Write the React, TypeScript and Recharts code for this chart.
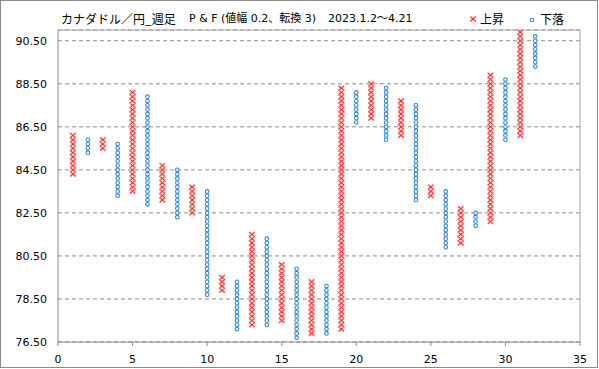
import { ScatterChart, Scatter, XAxis, YAxis, CartesianGrid, ReferenceLine } from 'recharts';

// P&F columns (box 0.2, reversal 3) — odd columns rise (X), even fall (O)
const colNo = [1, 2, 3, 4, 5, 6, 7, 8, 9, 10, 11, 12, 13, 14, 15, 16, 17, 18, 19, 20, 21, 22, 23, 24, 25, 26, 27, 28, 29, 30, 31, 32];
const colType = ['X', 'O', 'X', 'O', 'X', 'O', 'X', 'O', 'X', 'O', 'X', 'O', 'X', 'O', 'X', 'O', 'X', 'O', 'X', 'O', 'X', 'O', 'X', 'O', 'X', 'O', 'X', 'O', 'X', 'O', 'X', 'O'];
const colLow = [84.3, 85.3, 85.5, 83.3, 83.5, 82.9, 83.1, 82.3, 82.5, 78.7, 78.9, 77.1, 77.3, 77.3, 77.5, 76.7, 76.9, 76.9, 77.1, 86.7, 86.9, 85.9, 86.1, 83.1, 83.3, 80.9, 81.1, 81.9, 82.1, 85.9, 86.1, 89.3];
const colHigh = [86.1, 85.9, 85.9, 85.7, 88.1, 87.9, 84.7, 84.5, 83.7, 83.5, 79.5, 79.3, 81.5, 81.3, 80.1, 79.9, 79.3, 79.1, 88.3, 88.1, 88.5, 88.3, 87.7, 87.5, 83.7, 83.5, 82.7, 82.5, 88.9, 88.7, 90.9, 90.7];
const boxSize = 0.2;

const xTicks = [0, 5, 10, 15, 20, 25, 30, 35];
const yTicks = [76.5, 78.5, 80.5, 82.5, 84.5, 86.5, 88.5, 90.5];

const RED = '#ff1e1e';
const BLUE = '#2f88d2';
const NUM_FONT = '"DejaVu Sans", "Noto Sans CJK JP", sans-serif';
const JP_FONT = '"Noto Sans CJK JP", "DejaVu Sans", sans-serif';

function buildBoxes(type: string) {
  const pts: { x: number; y: number }[] = [];
  colNo.forEach((c, i) => {
    if (colType[i] !== type) return;
    const n = Math.round((colHigh[i] - colLow[i]) / boxSize);
    for (let k = 0; k <= n; k++) {
      pts.push({ x: c, y: +(colLow[i] + k * boxSize).toFixed(1) });
    }
  });
  return pts;
}

const upBoxes = buildBoxes('X');
const downBoxes = buildBoxes('O');

const XMark = (props: any) => {
  const { cx, cy } = props;
  const w = 2.8;
  const h = 2.3;
  return (
    <g>
      <line x1={cx - w} y1={cy - h} x2={cx + w} y2={cy + h} stroke="#ffb4b4" strokeWidth={2.2} />
      <line x1={cx - w} y1={cy + h} x2={cx + w} y2={cy - h} stroke="#ffb4b4" strokeWidth={2.2} />
      <line x1={cx - w} y1={cy - h} x2={cx + w} y2={cy + h} stroke={RED} strokeWidth={1} />
      <line x1={cx - w} y1={cy + h} x2={cx + w} y2={cy - h} stroke={RED} strokeWidth={1} />
    </g>
  );
};

const OMark = (props: any) => {
  const { cx, cy } = props;
  return <circle cx={cx} cy={cy} r={1.8} fill="#fff" stroke={BLUE} strokeWidth={1.1} />;
};

export default function App() {
  return (
    <div style={{ position: 'absolute', left: 0, top: 0, width: 599, height: 369, background: '#fff' }}>
      <ScatterChart width={599} height={369} margin={{ top: 30, right: 19, left: 0, bottom: 0 }}>
        <CartesianGrid vertical={false} stroke="#8c8c8c" strokeDasharray="4 3" />
        <XAxis
          type="number"
          dataKey="x"
          domain={[0, 35]}
          ticks={xTicks}
          height={27}
          stroke="#8c8c8c"
          tickSize={4}
          tickMargin={9}
          tick={{ fill: '#000', fontSize: 11, fontFamily: NUM_FONT }}
        />
        <YAxis
          type="number"
          dataKey="y"
          domain={[76.5, 91]}
          ticks={yTicks}
          width={58}
          allowDataOverflow
          stroke="#8c8c8c"
          tickLine={false}
          tickSize={5}
          tickMargin={6}
          tickFormatter={(v: number) => v.toFixed(2)}
          tick={{ fill: '#000', fontSize: 11, fontFamily: NUM_FONT }}
        />
        <ReferenceLine y={91} stroke="#a6a6a6" />
        <ReferenceLine x={35} stroke="#a6a6a6" />
        <Scatter name="上昇" data={upBoxes} shape={XMark} isAnimationActive={false} />
        <Scatter name="下落" data={downBoxes} shape={OMark} isAnimationActive={false} />
      </ScatterChart>

      {/* title */}
      <div style={{ position: 'absolute', left: 61, top: 11, lineHeight: '15px', fontSize: 12, fontFamily: JP_FONT, color: '#000', whiteSpace: 'nowrap' }}>
        カナダドル／円_週足
      </div>
      <div style={{ position: 'absolute', left: 189, top: 11, lineHeight: '15px', fontSize: 11, fontFamily: NUM_FONT, color: '#000', whiteSpace: 'nowrap' }}>
        P &amp; F (値幅 0.2、転換 3)
      </div>
      <div style={{ position: 'absolute', left: 328, top: 11, lineHeight: '15px', fontSize: 11, fontFamily: NUM_FONT, color: '#000', whiteSpace: 'nowrap' }}>
        2023.1.2～4.21
      </div>

      {/* legend */}
      <svg style={{ position: 'absolute', left: 468, top: 14 }} width={10} height={10}>
        <XMark cx={5} cy={5} />
      </svg>
      <div style={{ position: 'absolute', left: 480, top: 11, lineHeight: '15px', fontSize: 12, fontFamily: JP_FONT, color: '#000' }}>上昇</div>
      <svg style={{ position: 'absolute', left: 527, top: 15 }} width={10} height={10}>
        <OMark cx={5} cy={5} />
      </svg>
      <div style={{ position: 'absolute', left: 540, top: 11, lineHeight: '15px', fontSize: 12, fontFamily: JP_FONT, color: '#000' }}>下落</div>

      {/* chart area border */}
      <div style={{ position: 'absolute', left: 0, top: 0, width: 598, height: 368, border: '1px solid #8a8a8a', boxSizing: 'border-box', pointerEvents: 'none' }} />
    </div>
  );
}
